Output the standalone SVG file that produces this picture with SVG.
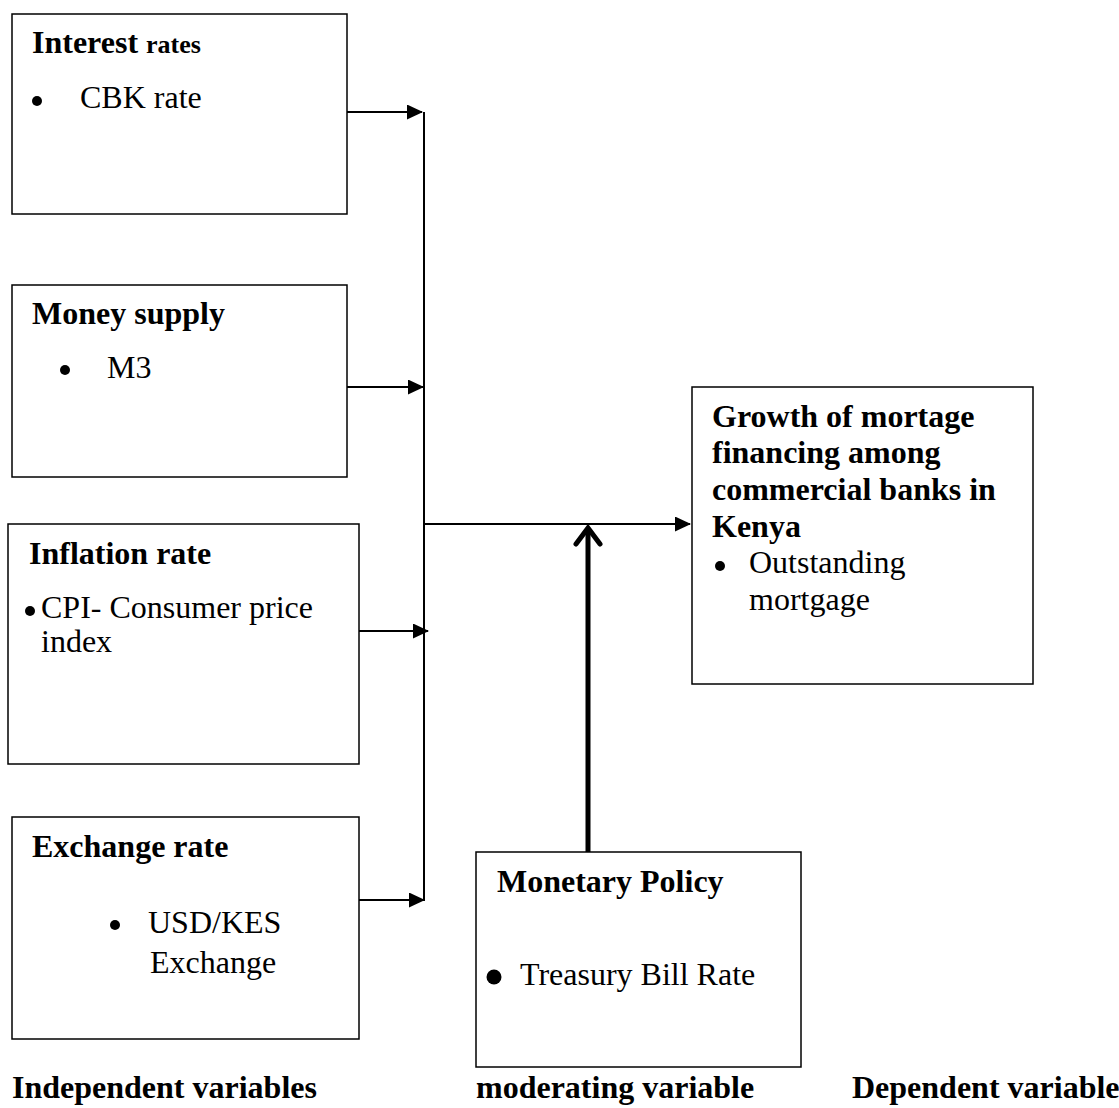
<svg xmlns="http://www.w3.org/2000/svg" width="1119" height="1108" viewBox="0 0 1119 1108">
<style>
.box{fill:#fff;stroke:#000;stroke-width:1.5}
.t{font-family:"Liberation Serif","Times New Roman",serif;font-size:32px;fill:#000}
.b{font-weight:bold}
.ln{stroke:#000;stroke-width:2;fill:none}
</style>
<defs>
<marker id="ah" markerWidth="16" markerHeight="15" refX="15" refY="7.5" orient="auto" markerUnits="userSpaceOnUse">
<path d="M0,0 L16,7.5 L0,15 Z" fill="#000"/>
</marker>
</defs>
<rect width="1119" height="1108" fill="#fff"/>
<g id="interest">
<rect class="box" x="12" y="14" width="335" height="200"/>
<text class="t b" x="32" y="53">Interest <tspan style="font-size:26px">rates</tspan></text>
<circle cx="37" cy="101" r="5"/>
<text class="t" x="80" y="108">CBK rate</text>
</g>
<g id="money">
<rect class="box" x="12" y="285" width="335" height="192"/>
<text class="t b" x="32" y="324">Money supply</text>
<circle cx="65" cy="370" r="5"/>
<text class="t" x="107" y="378">M3</text>
</g>
<g id="inflation">
<rect class="box" x="8" y="524" width="351" height="240"/>
<text class="t b" x="29" y="564">Inflation rate</text>
<circle cx="30" cy="611" r="5"/>
<text class="t" x="41" y="618">CPI- Consumer price</text>
<text class="t" x="41" y="652">index</text>
</g>
<g id="exchange">
<rect class="box" x="12" y="817" width="347" height="222"/>
<text class="t b" x="32" y="857">Exchange rate</text>
<circle cx="115" cy="925" r="5"/>
<text class="t" x="148" y="933">USD/KES</text>
<text class="t" x="150" y="973">Exchange</text>
</g>
<g id="dependent">
<rect class="box" x="692" y="387" width="341" height="297"/>
<text class="t b" x="712" y="427">Growth of mortage</text>
<text class="t b" x="712" y="463">financing among</text>
<text class="t b" x="712" y="500">commercial banks in</text>
<text class="t b" x="712" y="537">Kenya</text>
<circle cx="720" cy="566" r="5"/>
<text class="t" x="749" y="573">Outstanding</text>
<text class="t" x="749" y="610">mortgage</text>
</g>
<g id="moderating">
<rect class="box" x="476" y="852" width="325" height="215"/>
<text class="t b" x="497" y="892">Monetary Policy</text>
<circle cx="494" cy="977" r="7.5"/>
<text class="t" x="520" y="985">Treasury Bill Rate</text>
</g>
<g id="labels">
<text class="t b" x="12" y="1098">Independent variables</text>
<text class="t b" x="476" y="1098">moderating variable</text>
<text class="t b" x="852" y="1098">Dependent variable</text>
</g>
<g id="connectors">
<line class="ln" x1="347" y1="112" x2="422" y2="112" marker-end="url(#ah)"/>
<line class="ln" x1="347" y1="387" x2="423" y2="387" marker-end="url(#ah)"/>
<line class="ln" x1="359" y1="631" x2="428" y2="631" marker-end="url(#ah)"/>
<line class="ln" x1="359" y1="900" x2="424" y2="900" marker-end="url(#ah)"/>
<line class="ln" x1="424" y1="112" x2="424" y2="901"/>
<line class="ln" x1="424" y1="524" x2="690" y2="524" marker-end="url(#ah)"/>
<line x1="588" y1="852" x2="588" y2="528" stroke="#000" stroke-width="5"/>
<polyline points="576,544 588,528 600,544" fill="none" stroke="#000" stroke-width="5" stroke-linecap="round" stroke-linejoin="miter"/>
</g>
</svg>
